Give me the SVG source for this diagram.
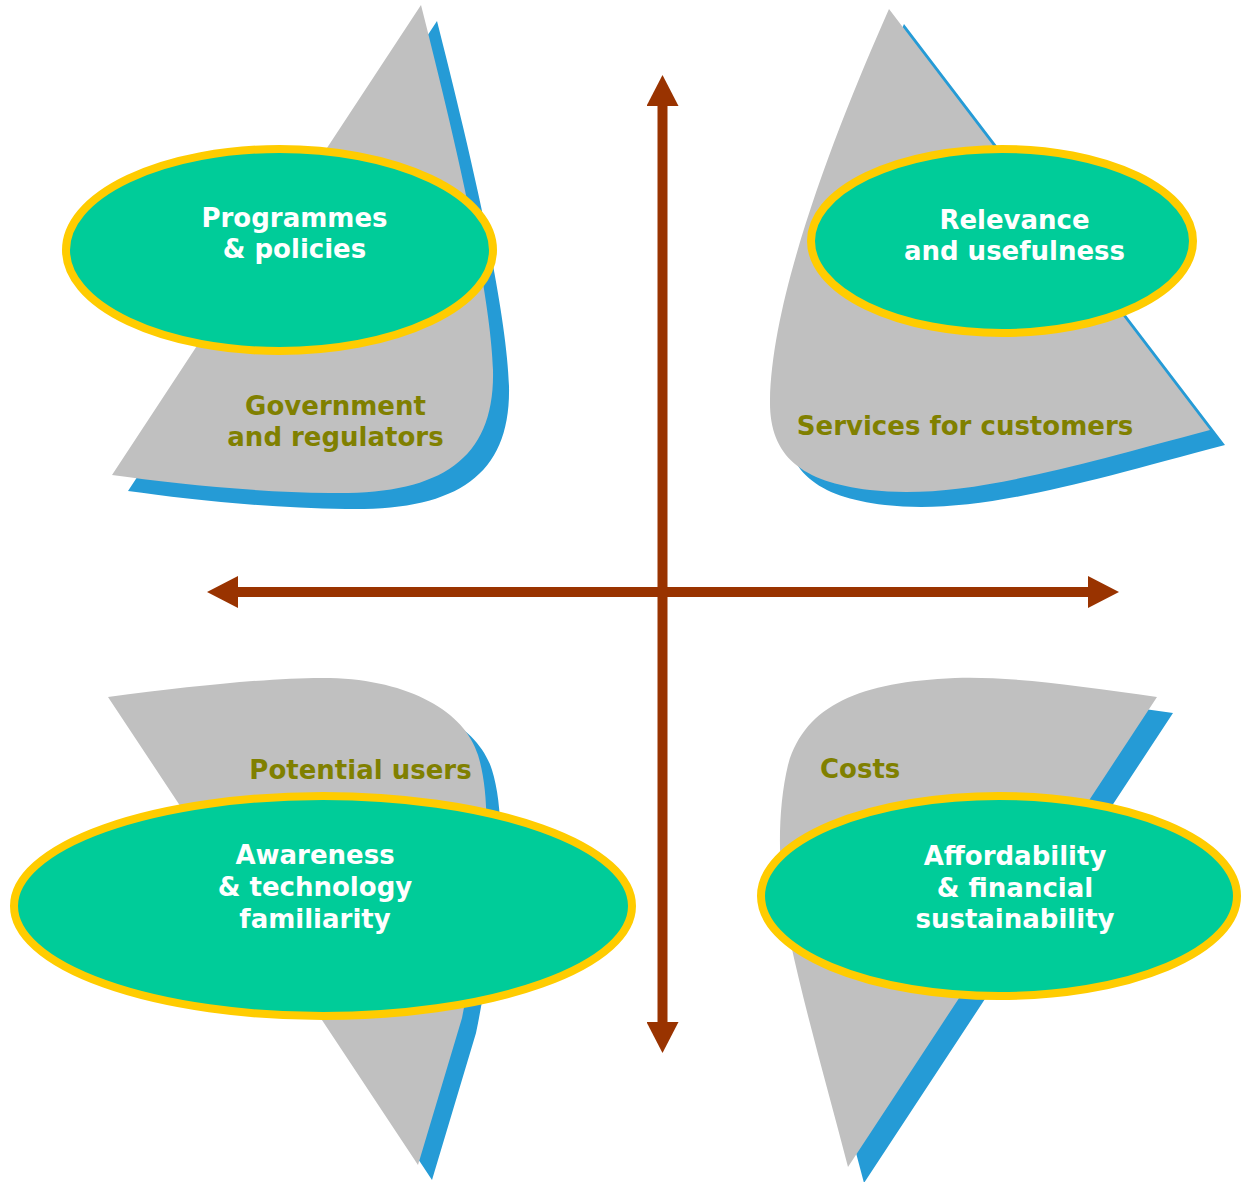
<svg xmlns="http://www.w3.org/2000/svg" width="1242" height="1182" viewBox="0 0 1242 1182">
  <style>
    .back { fill: #259BD6; }
    .leaf { fill: #C0C0C0; }
    .oval { fill: #00CC99; stroke: #FFCC00; stroke-width: 8; }
    .lbl { font-family: "DejaVu Sans", Verdana, sans-serif; font-weight: bold; font-size: 26px; }
    .in { fill: #FFFFFF; text-anchor: middle; }
    .out { fill: #808000; }
    .axis { stroke: #993300; stroke-width: 10; fill: none; }
  </style>
  <defs>
    <marker id="head" viewBox="0 0 31 32" refX="1" refY="16" markerWidth="31" markerHeight="32" markerUnits="userSpaceOnUse" orient="auto-start-reverse">
      <path d="M0,0 L31,16 L0,32 Z" fill="#993300"/>
    </marker>
    <path id="leafTL" d="M421,5 C445,100 490,280 493,370 C495,460 440,495 330,493 C250,492 170,483 112,475 Z"/>
    <path id="leafTR" d="M889,9 C840,120 772,290 770,400 C769,455 800,482 870,490 C960,500 1060,470 1210,430 Z"/>
    <path id="leafBL" d="M108,697 C200,685 280,677 330,678 C410,680 465,712 478,755 C492,800 490,880 462,1018 L418,1165 Z"/>
    <path id="leafBR" d="M1157,697 C1080,686 1010,676 955,678 C860,682 805,705 788,765 C776,815 778,880 790,940 C805,1010 828,1090 848,1167 Z"/>
  </defs>

  <!-- horizontal and vertical axes -->
  <g id="connectors">
    <line class="axis" x1="237" y1="592" x2="1089" y2="592" marker-start="url(#head)" marker-end="url(#head)"/>
    <line class="axis" x1="662.5" y1="105" x2="662.5" y2="1023" marker-start="url(#head)" marker-end="url(#head)"/>
  </g>

  <!-- top left: government and regulators -->
  <g id="node-government">
    <use href="#leafTL" class="back" transform="translate(16,16)"/>
    <use href="#leafTL" class="leaf"/>
    <text class="lbl out" text-anchor="middle" x="335.5" y="415">Government</text>
    <text class="lbl out" text-anchor="middle" x="335.5" y="446">and regulators</text>
    <ellipse class="oval" cx="279.5" cy="250" rx="213.5" ry="101"/>
    <text class="lbl in" x="294.5" y="227">Programmes</text>
    <text class="lbl in" x="294.5" y="258">&amp; policies</text>
  </g>

  <!-- top right: services for customers -->
  <g id="node-services">
    <use href="#leafTR" class="back" transform="translate(15,15)"/>
    <use href="#leafTR" class="leaf"/>
    <text class="lbl out" text-anchor="middle" x="965" y="435">Services for customers</text>
    <ellipse class="oval" cx="1002" cy="241" rx="191" ry="92"/>
    <text class="lbl in" x="1014.5" y="229">Relevance</text>
    <text class="lbl in" x="1014.5" y="260">and usefulness</text>
  </g>

  <!-- bottom left: potential users -->
  <g id="node-users">
    <use href="#leafBL" class="back" transform="translate(14,15)"/>
    <use href="#leafBL" class="leaf"/>
    <text class="lbl out" text-anchor="middle" x="360.5" y="779">Potential users</text>
    <ellipse class="oval" cx="323" cy="906" rx="309" ry="110"/>
    <text class="lbl in" x="315" y="864">Awareness</text>
    <text class="lbl in" x="315" y="896">&amp; technology</text>
    <text class="lbl in" x="315" y="928">familiarity</text>
  </g>

  <!-- bottom right: costs -->
  <g id="node-costs">
    <use href="#leafBR" class="back" transform="translate(16,16)"/>
    <use href="#leafBR" class="leaf"/>
    <text class="lbl out" x="820" y="778">Costs</text>
    <ellipse class="oval" cx="999" cy="896" rx="238" ry="100"/>
    <text class="lbl in" x="1015" y="865">Affordability</text>
    <text class="lbl in" x="1015" y="897">&amp; financial</text>
    <text class="lbl in" x="1015" y="928">sustainability</text>
  </g>
</svg>
